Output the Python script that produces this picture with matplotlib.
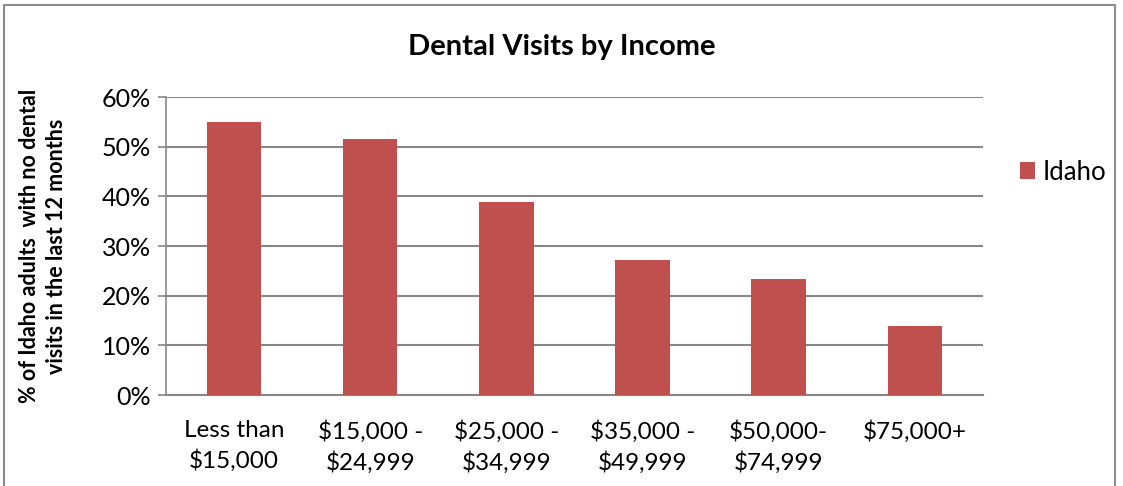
import matplotlib
matplotlib.use('Agg')
import matplotlib.pyplot as plt
from matplotlib.patches import Rectangle
import numpy as np

plt.rcParams['font.family'] = ['Lato', 'DejaVu Sans']

categories = ['Less than\n$15,000', '$15,000 -\n$24,999', '$25,000 -\n$34,999',
              '$35,000 -\n$49,999', '$50,000-\n$74,999', '$75,000+']
idaho = [55.0, 51.5, 38.9, 27.2, 23.3, 13.9]
yticks = [0, 10, 20, 30, 40, 50, 60]
ytick_labels = ['0%', '10%', '20%', '30%', '40%', '50%', '60%']

bar_color = '#C0504D'
grid_color = '#878787'

fig = plt.figure(figsize=(11.23, 4.86), dpi=100)
ax = fig.add_axes([0.1478, 0.1872, 0.7275, 0.6132])

x = np.arange(len(categories))
ax.bar(x, idaho, width=0.4, color=bar_color, label='Idaho', zorder=3)

ax.set_xlim(-0.5, len(categories) - 0.5)
ax.set_ylim(0, 60)
ax.set_yticks(yticks)
ax.set_yticklabels(ytick_labels, fontsize=18)
ax.set_xticks(x)
ax.set_xticklabels(categories, fontsize=17.5, linespacing=1.45)
ax.tick_params(axis='x', length=0, pad=18)
ax.tick_params(axis='y', length=6, width=1.2, color=grid_color, pad=5, direction='out')

ax.yaxis.grid(True, color=grid_color, linewidth=1.5, zorder=0)
for s in ['top', 'right']:
    ax.spines[s].set_visible(False)
ax.spines['left'].set_color(grid_color)
ax.spines['left'].set_linewidth(1.2)
ax.spines['bottom'].set_color(grid_color)
ax.spines['bottom'].set_linewidth(1.5)

ax.set_ylabel('% of Idaho adults  with no dental\nvisits in the last 12 months',
              fontsize=15.5, fontweight='bold', linespacing=1.35, va='center')
ax.yaxis.set_label_coords(-0.151, 0.5)

fig.text(0.5, 0.903, 'Dental Visits by Income', fontsize=21, fontweight='bold',
         ha='center', va='center')

leg = fig.legend(loc='center left', bbox_to_anchor=(0.908, 0.646), frameon=False,
                 fontsize=18.5, handlelength=0.6, handleheight=0.6, handletextpad=0.3,
                 borderpad=0, borderaxespad=0)

# outer chart border
fig.patches.append(Rectangle((0.004, -0.01), 0.989, 1.0, transform=fig.transFigure,
                             fill=False, edgecolor='#8c8c8c', linewidth=1.5))

fig.savefig('out.png', dpi=100)
